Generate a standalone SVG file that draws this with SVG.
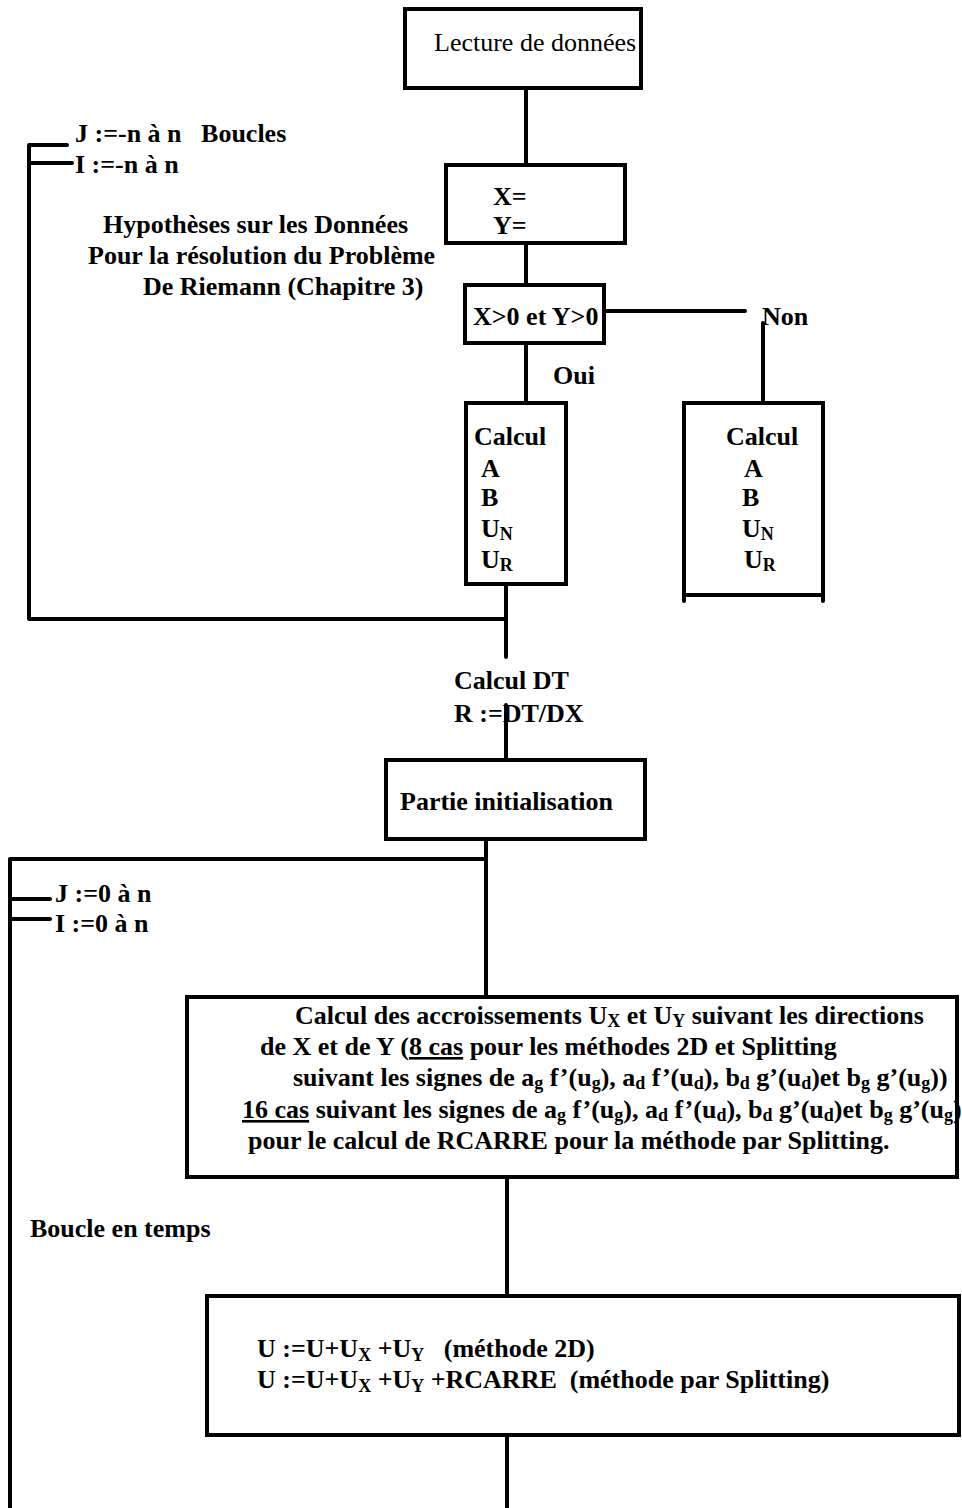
<svg xmlns="http://www.w3.org/2000/svg" width="962" height="1508" viewBox="0 0 962 1508">
<style>
text{font-family:"Liberation Serif","Times New Roman",serif;font-size:26px;font-weight:bold;fill:#000}
.reg{font-weight:normal}
.box{fill:#fff;stroke:#000;stroke-width:4}
.ln{fill:none;stroke:#000;stroke-width:4;stroke-linecap:round}
.sb{font-size:18px}
.ul{text-decoration:underline}
</style>
<rect width="962" height="1508" fill="#fff"/>
<g id="connectors">
<path class="ln" d="M526 88V165M526 243V285M526 343V403M604 311H745M763 323V403M506 584V657M506 705V760M29 619H506M29 145V619M29 145H67M29 163H72M486 839V997M10 859H486M10 859V1508M10 899H50M10 919H50M507 1177V1296M507 1435V1508"/>
</g>
<g id="lecture">
<rect class="box" x="405" y="9" width="236" height="79"/>
<text class="reg" x="434" y="51">Lecture de données</text>
</g>
<g id="xy">
<rect class="box" x="446" y="165" width="179" height="78"/>
<text x="493" y="205">X=</text>
<text x="493" y="234">Y=</text>
</g>
<g id="decision">
<rect class="box" x="465" y="285" width="139" height="58"/>
<text x="473" y="325">X&gt;0 et Y&gt;0</text>
</g>
<g id="label-non"><text x="762" y="325">Non</text></g>
<g id="label-oui"><text x="553" y="384">Oui</text></g>
<g id="calcul-oui">
<rect class="box" x="466" y="403" width="100" height="181"/>
<text x="474" y="445">Calcul</text>
<text x="481" y="477">A</text>
<text x="481" y="506">B</text>
<text x="481" y="537">U<tspan class="sb" dy="3">N</tspan></text>
<text x="481" y="568">U<tspan class="sb" dy="3">R</tspan></text>
</g>
<g id="calcul-non">
<rect class="box" x="684" y="403" width="139" height="192"/>
<path class="ln" d="M684 595V601M823 595V601"/>
<text x="726" y="445">Calcul</text>
<text x="744" y="477">A</text>
<text x="742" y="506">B</text>
<text x="742" y="537">U<tspan class="sb" dy="3">N</tspan></text>
<text x="744" y="568">U<tspan class="sb" dy="3">R</tspan></text>
</g>
<g id="boucles1">
<text x="75" y="142" xml:space="preserve">J :=-n à n   Boucles</text>
<text x="75" y="173">I :=-n à n</text>
</g>
<g id="hypotheses">
<text x="103" y="233">Hypothèses sur les Données</text>
<text x="88" y="264">Pour la résolution du Problème</text>
<text x="143" y="295">De Riemann (Chapitre 3)</text>
</g>
<g id="calcul-dt">
<text x="454" y="689">Calcul DT</text>
<text x="454" y="722">R :=DT/DX</text>
</g>
<g id="init">
<rect class="box" x="386" y="760" width="259" height="79"/>
<text x="400" y="810">Partie initialisation</text>
</g>
<g id="boucles2">
<text x="55" y="902">J :=0 à n</text>
<text x="55" y="932">I :=0 à n</text>
</g>
<g id="accroissements">
<rect class="box" x="187" y="997" width="770" height="180"/>
<text x="295" y="1024">Calcul des accroissements U<tspan class="sb" dy="3">X</tspan><tspan dy="-3"> et U</tspan><tspan class="sb" dy="3">Y</tspan><tspan dy="-3"> suivant les directions</tspan></text>
<text x="260" y="1055">de X et de Y (<tspan class="ul">8 cas</tspan> pour les méthodes 2D et Splitting</text>
<text x="293" y="1086">suivant les signes de a<tspan class="sb" dy="3">g</tspan><tspan dy="-3"> f’(u</tspan><tspan class="sb" dy="3">g</tspan><tspan dy="-3">), a</tspan><tspan class="sb" dy="3">d</tspan><tspan dy="-3"> f’(u</tspan><tspan class="sb" dy="3">d</tspan><tspan dy="-3">), b</tspan><tspan class="sb" dy="3">d</tspan><tspan dy="-3"> g’(u</tspan><tspan class="sb" dy="3">d</tspan><tspan dy="-3">)et b</tspan><tspan class="sb" dy="3">g</tspan><tspan dy="-3"> g’(u</tspan><tspan class="sb" dy="3">g</tspan><tspan dy="-3">))</tspan></text>
<text x="242" y="1118"><tspan class="ul">16 cas</tspan> suivant les signes de a<tspan class="sb" dy="3">g</tspan><tspan dy="-3"> f’(u</tspan><tspan class="sb" dy="3">g</tspan><tspan dy="-3">), a</tspan><tspan class="sb" dy="3">d</tspan><tspan dy="-3"> f’(u</tspan><tspan class="sb" dy="3">d</tspan><tspan dy="-3">), b</tspan><tspan class="sb" dy="3">d</tspan><tspan dy="-3"> g’(u</tspan><tspan class="sb" dy="3">d</tspan><tspan dy="-3">)et b</tspan><tspan class="sb" dy="3">g</tspan><tspan dy="-3"> g’(u</tspan><tspan class="sb" dy="3">g</tspan><tspan dy="-3">)</tspan></text>
<text x="248" y="1149">pour le calcul de RCARRE pour la méthode par Splitting.</text>
</g>
<g id="label-boucle-temps"><text x="30" y="1237">Boucle en temps</text></g>
<g id="update">
<rect class="box" x="207" y="1296" width="752" height="139"/>
<text x="257" y="1357">U :=U+U<tspan class="sb" dy="4">X</tspan><tspan dy="-4"> +U</tspan><tspan class="sb" dy="4">Y</tspan><tspan dy="-4" xml:space="preserve">   (méthode 2D)</tspan></text>
<text x="257" y="1388">U :=U+U<tspan class="sb" dy="4">X</tspan><tspan dy="-4"> +U</tspan><tspan class="sb" dy="4">Y</tspan><tspan dy="-4" xml:space="preserve"> +RCARRE  (méthode par Splitting)</tspan></text>
</g>
</svg>
